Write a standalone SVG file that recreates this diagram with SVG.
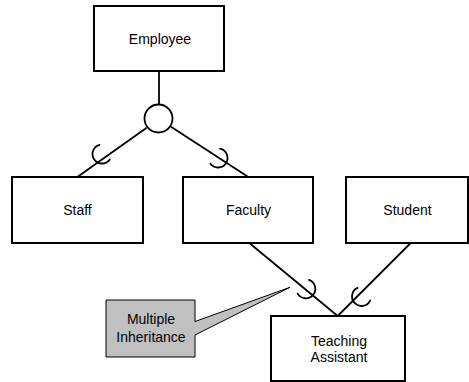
<svg xmlns="http://www.w3.org/2000/svg" width="469" height="382" viewBox="0 0 469 382">
<style>
.box{fill:#fff;stroke:#000;stroke-width:2}
.lbl{font-family:"Liberation Sans",Arial,sans-serif;font-size:14px;fill:#000;text-anchor:middle}
.ln{fill:none;stroke:#000;stroke-width:1.8}
.sub{fill:none;stroke:#000;stroke-width:1.8;stroke-linecap:round}
</style>
<defs>
<path id="subset" class="sub" d="M -3.25,-8.93 A 9.5 9.5 0 1 1 -3.25,8.93"/>
</defs>
<rect width="469" height="382" fill="#fff"/>
<g id="connectors">
<line class="ln" x1="159" y1="71" x2="159" y2="104"/>
<circle id="isa" cx="158.5" cy="118.5" r="14" fill="#fff" stroke="#000" stroke-width="1.8"/>
<line class="ln" x1="146.7" y1="127.7" x2="77.3" y2="177"/>
<line class="ln" x1="171" y1="126.7" x2="248.3" y2="177"/>
<line class="ln" x1="249.3" y1="243" x2="337.7" y2="316"/>
<line class="ln" x1="410.7" y1="243" x2="337.7" y2="316"/>
<use href="#subset" transform="translate(102,154) rotate(144.8)"/>
<use href="#subset" transform="translate(218,158) rotate(32.9)"/>
<use href="#subset" transform="translate(305.8,288.8) rotate(39.4)"/>
<use href="#subset" transform="translate(361.5,296.5) rotate(135.1)"/>
</g>
<g id="employee">
<rect class="box" x="94" y="6" width="130" height="65"/>
<text class="lbl" x="160" y="43.5">Employee</text>
</g>
<g id="staff">
<rect class="box" x="12" y="177" width="131" height="66"/>
<text class="lbl" x="77.5" y="215">Staff</text>
</g>
<g id="faculty">
<rect class="box" x="183" y="177" width="130" height="66"/>
<text class="lbl" x="248.5" y="215">Faculty</text>
</g>
<g id="student">
<rect class="box" x="346" y="177" width="122" height="66"/>
<text class="lbl" x="407.5" y="215">Student</text>
</g>
<g id="teaching-assistant">
<rect class="box" x="271" y="316" width="134" height="65"/>
<text class="lbl" x="339" y="345.5">Teaching</text>
<text class="lbl" x="339" y="361.5">Assistant</text>
</g>
<g id="callout">
<path d="M106,300 L195,300 L195,321.5 L290,287.3 L195,335 L195,357 L106,357 Z" fill="#c0c0c0" stroke="#000" stroke-width="1"/>
<text class="lbl" x="151" y="324">Multiple</text>
<text class="lbl" x="151" y="341.5">Inheritance</text>
</g>
</svg>
